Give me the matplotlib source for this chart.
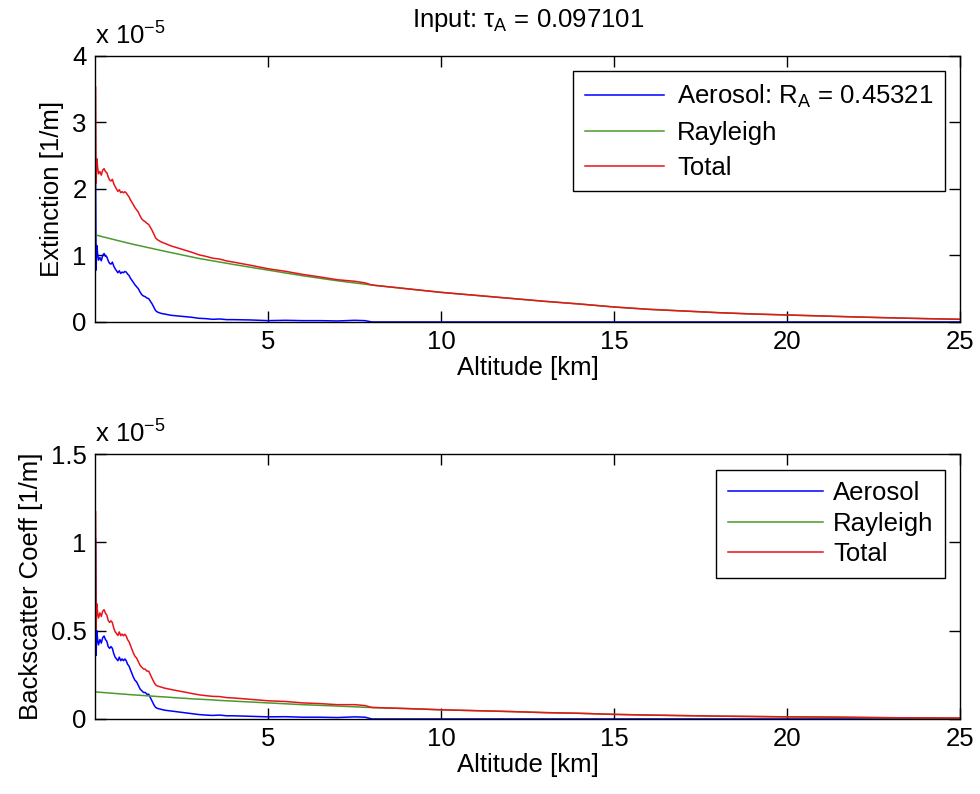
import numpy as np
import matplotlib
matplotlib.use("Agg")
import matplotlib.pyplot as plt

plt.rcParams["font.family"] = ["Liberation Sans", "DejaVu Sans"]
plt.rcParams["mathtext.default"] = "regular"

# altitude grid [km]
altitude = [
    0.015, 0.03, 0.05, 0.08, 0.10, 0.14, 0.18, 0.22, 0.26, 0.30,
    0.34, 0.38, 0.42, 0.46, 0.50, 0.54, 0.58, 0.62, 0.66, 0.70,
    0.74, 0.78, 0.82, 0.86, 0.90, 0.94, 0.98, 1.02, 1.06, 1.10,
    1.15, 1.20, 1.25, 1.30, 1.35, 1.40, 1.45, 1.50, 1.55, 1.60,
    1.65, 1.70, 1.75, 1.80, 1.90, 2.00,
    2.2, 2.4, 2.6, 2.8, 3.0, 3.2, 3.4, 3.6, 3.8, 4.0,
    4.5, 5.0, 5.5, 6.0, 6.5, 7.0, 7.5, 7.8, 8.0,
    9, 10, 11, 12, 13, 14, 15, 16, 17, 18, 19, 20, 21, 22, 23, 24, 25,
]

# extinction, units of 1e-5 1/m
aer_ext = [
    2.22, 0.78, 1.15, 1.00, 0.93, 0.97, 0.92, 1.00, 1.03, 0.99,
    0.98, 0.92, 0.88, 0.87, 0.90, 0.84, 0.80, 0.77, 0.74, 0.77,
    0.73, 0.75, 0.74, 0.76, 0.75, 0.72, 0.70, 0.66, 0.63, 0.60,
    0.56, 0.53, 0.50, 0.45, 0.41, 0.39, 0.38, 0.36, 0.35, 0.31,
    0.27, 0.22, 0.17, 0.15, 0.13, 0.12,
    0.10, 0.09, 0.08, 0.07, 0.055, 0.05, 0.04, 0.045, 0.035, 0.035,
    0.03, 0.02, 0.025, 0.02, 0.02, 0.015, 0.025, 0.02, 0.0,
    0, 0, 0, 0, 0, 0, 0, 0, 0, 0, 0, 0, 0, 0, 0, 0, 0,
]
ray_ext = [
    1.310, 1.307, 1.305, 1.301, 1.297, 1.292, 1.287, 1.281, 1.276, 1.271,
    1.266, 1.261, 1.255, 1.250, 1.245, 1.240, 1.235, 1.229, 1.224, 1.219,
    1.214, 1.209, 1.203, 1.198, 1.193, 1.188, 1.183, 1.178, 1.173, 1.168,
    1.162, 1.157, 1.151, 1.145, 1.139, 1.134, 1.128, 1.122, 1.116, 1.111,
    1.105, 1.099, 1.093, 1.088, 1.076, 1.065,
    1.043, 1.021, 0.999, 0.977, 0.955, 0.937, 0.919, 0.901, 0.883, 0.865,
    0.822, 0.780, 0.737, 0.695, 0.657, 0.620, 0.587, 0.568, 0.555,
    0.50, 0.445, 0.40, 0.355, 0.31, 0.27, 0.225, 0.19, 0.165, 0.14,
    0.12, 0.105, 0.09, 0.075, 0.062, 0.05, 0.04,
]

# backscatter, units of 1e-5
aer_back = [
    1.02, 0.36, 0.50, 0.44, 0.42, 0.45, 0.43, 0.46, 0.47, 0.45,
    0.44, 0.41, 0.40, 0.41, 0.40, 0.37, 0.35, 0.34, 0.33, 0.35,
    0.33, 0.34, 0.33, 0.34, 0.33, 0.31, 0.30, 0.28, 0.26, 0.24,
    0.22, 0.21, 0.19, 0.17, 0.16, 0.15, 0.15, 0.14, 0.14, 0.12,
    0.10, 0.08, 0.065, 0.06, 0.055, 0.05,
    0.045, 0.04, 0.035, 0.03, 0.025, 0.022, 0.02, 0.022, 0.018, 0.018,
    0.015, 0.012, 0.013, 0.01, 0.01, 0.008, 0.012, 0.01, 0.0,
    0, 0, 0, 0, 0, 0, 0, 0, 0, 0, 0, 0, 0, 0, 0, 0, 0,
]
ray_back = [
    0.153, 0.153, 0.153, 0.152, 0.152, 0.151, 0.151, 0.150, 0.149, 0.149,
    0.148, 0.148, 0.147, 0.146, 0.146, 0.145, 0.144, 0.144, 0.143, 0.143,
    0.142, 0.141, 0.141, 0.140, 0.140, 0.139, 0.138, 0.138, 0.137, 0.137,
    0.136, 0.135, 0.135, 0.134, 0.133, 0.133, 0.132, 0.131, 0.131, 0.130,
    0.129, 0.129, 0.128, 0.127, 0.126, 0.125,
    0.122, 0.119, 0.117, 0.114, 0.112, 0.110, 0.108, 0.105, 0.103, 0.101,
    0.096, 0.091, 0.086, 0.081, 0.077, 0.073, 0.069, 0.066, 0.065,
    0.059, 0.052, 0.047, 0.042, 0.036, 0.032, 0.026, 0.022, 0.019, 0.016,
    0.014, 0.012, 0.011, 0.009, 0.007, 0.006, 0.005,
]

tau_a = "0.097101"
r_a = "0.45321"

alt = np.array(altitude)
tot_ext = np.array(aer_ext) + np.array(ray_ext)
tot_back = np.array(aer_back) + np.array(ray_back)

blue = "#0000ff"
green = "#4b9a2c"
red = "#e8141b"
fs = 18.5

fig = plt.figure(figsize=(9.8, 7.94), dpi=100)
ax1 = fig.add_axes([0.097, 0.5945, 0.883, 0.335])
ax2 = fig.add_axes([0.097, 0.0945, 0.883, 0.3335])


def style(ax, ymax, yticks, ylabels, ylabel):
    ax.set_xlim(0, 25)
    ax.set_ylim(0, ymax)
    ax.set_xticks([5, 10, 15, 20, 25])
    ax.set_yticks(yticks)
    ax.set_yticklabels(ylabels)
    ax.tick_params(direction="in", top=True, right=True, length=8,
                   width=1, labelsize=fs, pad=6)
    for s in ax.spines.values():
        s.set_linewidth(1.0)
    ax.set_xlabel("Altitude [km]", fontsize=fs, labelpad=1)
    ax.set_ylabel(ylabel, fontsize=fs, labelpad=6)
    ax.text(0, 1.025, r"x 10$^{-5}$", transform=ax.transAxes,
            fontsize=fs, ha="left", va="bottom")


ax1.plot(alt, aer_ext, color=blue, lw=1.1, label=r"Aerosol: R$_A$ = " + r_a)
ax1.plot(alt, ray_ext, color=green, lw=1.1, label="Rayleigh")
ax1.plot(alt, tot_ext, color=red, lw=1.1, label="Total")
style(ax1, 4, [0, 1, 2, 3, 4], ["0", "1", "2", "3", "4"], "Extinction [1/m]")
ax1.set_title("Input: τ$_A$ = " + tau_a, fontsize=fs, pad=21)
leg1 = ax1.legend(loc="upper right", fontsize=fs, fancybox=False,
                  edgecolor="black", handlelength=3.1, handletextpad=0.5,
                  borderaxespad=0.6, borderpad=0.45, labelspacing=0.42,
                  framealpha=1)
leg1.get_frame().set_linewidth(1.0)

ax2.plot(alt, aer_back, color=blue, lw=1.1, label="Aerosol")
ax2.plot(alt, ray_back, color=green, lw=1.1, label="Rayleigh")
ax2.plot(alt, tot_back, color=red, lw=1.1, label="Total")
style(ax2, 1.5, [0, 0.5, 1, 1.5], ["0", "0.5", "1", "1.5"],
      "Backscatter Coeff [1/m]")
leg2 = ax2.legend(loc="upper right", fontsize=fs, fancybox=False,
                  edgecolor="black", handlelength=3.7, handletextpad=0.4,
                  borderaxespad=0.6, borderpad=0.45, labelspacing=0.25,
                  framealpha=1)
leg2.get_frame().set_linewidth(1.0)

fig.savefig("out.png", dpi=100)
